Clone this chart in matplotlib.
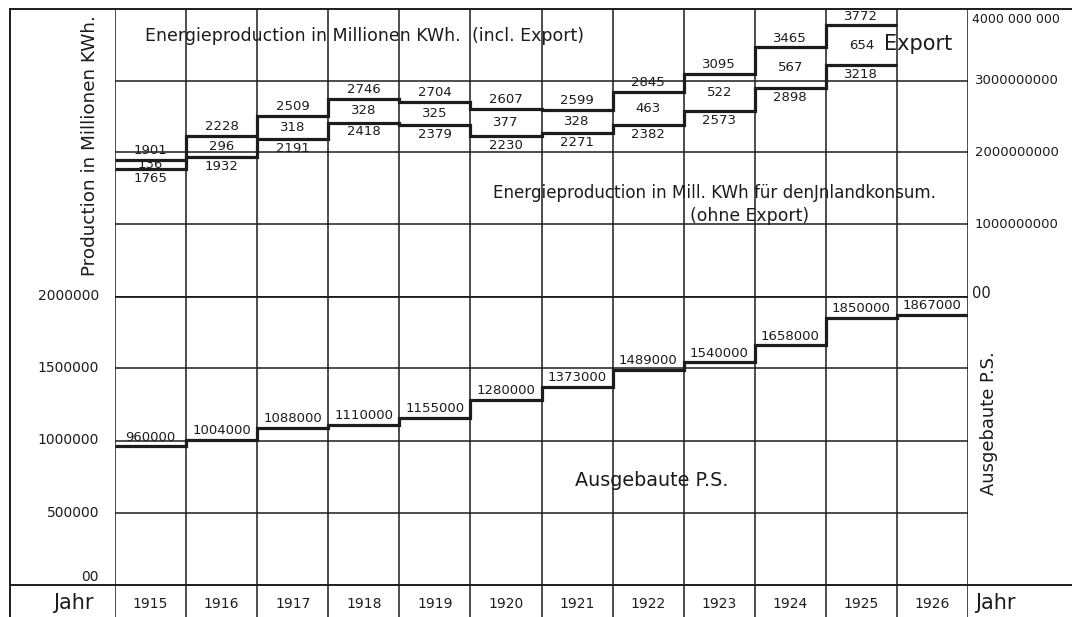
import matplotlib
matplotlib.use("Agg")
import matplotlib.pyplot as plt
import numpy as np
from matplotlib.lines import Line2D

# ---------------- data ----------------
years = [1915, 1916, 1917, 1918, 1919, 1920, 1921, 1922, 1923, 1924, 1925, 1926]
# Energy production in million kWh (1915-1925)
total_incl_export = [1901, 2228, 2509, 2746, 2704, 2607, 2599, 2845, 3095, 3465, 3772]
export_labels = [136, 296, 318, 328, 325, 377, 328, 463, 522, 567, 654]
inland = [1765, 1932, 2191, 2418, 2379, 2230, 2271, 2382, 2573, 2898, 3218]
# installed horsepower (1915-1926)
ps = [960000, 1004000, 1088000, 1110000, 1155000, 1280000, 1373000,
      1489000, 1540000, 1658000, 1850000, 1867000]

top_ticks = [1000, 2000, 3000, 4000]
top_tick_labels = ["1000000000", "2000000000", "3000000000", "4000 000 000"]
bot_ticks = [0, 500000, 1000000, 1500000, 2000000]
bot_tick_labels = ["00", "500000", "1000000", "1500000", "2000000"]

FONT = "DejaVu Sans"

W, H = 1072, 617
fig = plt.figure(figsize=(W / 100, H / 100), dpi=100)
fig.patch.set_facecolor("white")

def fx(p):
    return p / W

def fy(p):
    return 1 - p / H

INK = "#1c1c1c"
GRID_LW = 1.1
DATA_LW = 2.3
NUM_FS = 9.5

x0, x1 = 115, 968
ax_top = fig.add_axes([fx(x0), fy(296), fx(x1) - fx(x0), fy(9) - fy(296)])
ax_bot = fig.add_axes([fx(x0), fy(585), fx(x1) - fx(x0), fy(296) - fy(585)])
ax_yr = fig.add_axes([fx(x0), 0, fx(x1) - fx(x0), fy(585)])

n = len(years)
for ax in (ax_top, ax_bot, ax_yr):
    ax.set_xlim(0, n)
    for s in ax.spines.values():
        s.set_visible(False)
    ax.set_xticks([])
    ax.set_yticks([])
    ax.patch.set_alpha(0)
    for i in range(n + 1):
        ax.axvline(i, color=INK, lw=GRID_LW, zorder=1)

ax_top.set_ylim(0, 4000)
ax_bot.set_ylim(0, 2000000)
ax_yr.set_ylim(0, 1)

for v in top_ticks[:-1]:
    ax_top.axhline(v, color=INK, lw=GRID_LW, zorder=1)
for v in bot_ticks[1:-1]:
    ax_bot.axhline(v, color=INK, lw=GRID_LW, zorder=1)
ax_bot.axhline(2000000, color=INK, lw=2.0, zorder=1)

# outer frame lines (figure coords)
def fline(xa, ya, xb, yb, lw=1.4):
    fig.add_artist(Line2D([fx(xa), fx(xb)], [fy(ya), fy(yb)], color=INK, lw=lw))

fline(10, 9, 1072, 9, 1.4)
fline(10, 9, 10, 617, 1.4)
fline(10, 585, 1072, 585, 1.4)

# ---------------- upper panel: energy ----------------
m = len(total_incl_export)
edges = np.arange(m + 1)
ax_top.stairs(total_incl_export, edges, baseline=None, color=INK, lw=DATA_LW, zorder=3)
ax_top.stairs(inland, edges, baseline=None, color=INK, lw=DATA_LW, zorder=3)

for i in range(m):
    xc = i + 0.5
    ax_top.annotate(str(total_incl_export[i]), (xc, total_incl_export[i]), xytext=(0, 2),
                    textcoords="offset points", ha="center", va="bottom",
                    fontsize=NUM_FS, family=FONT, color=INK, zorder=4)
    ax_top.annotate(str(inland[i]), (xc, inland[i]), xytext=(0, -2),
                    textcoords="offset points", ha="center", va="top",
                    fontsize=NUM_FS, family=FONT, color=INK, zorder=4)
    ax_top.text(xc, (total_incl_export[i] + inland[i]) / 2, str(export_labels[i]),
                ha="center", va="center", fontsize=NUM_FS, family=FONT, color=INK, zorder=4)

# right scale labels (upper)
tr = ax_top.get_yaxis_transform()
for v, lab in zip(top_ticks, top_tick_labels):
    if v == 4000:
        ax_top.annotate(lab, (1, v), xycoords=tr, xytext=(4, -4), textcoords="offset pixels",
                        ha="left", va="top", fontsize=9, family=FONT, color=INK)
    else:
        ax_top.annotate(lab, (1, v), xycoords=tr, xytext=(7, 0), textcoords="offset pixels",
                        ha="left", va="center", fontsize=9.5, family=FONT, color=INK)
ax_top.annotate("00", (1, 0), xycoords=tr, xytext=(4, 3), textcoords="offset pixels",
                ha="left", va="center", fontsize=10.5, family=FONT, color=INK)

# ---------------- lower panel: P.S. ----------------
ax_bot.stairs(ps, np.arange(n + 1), baseline=None, color=INK, lw=DATA_LW, zorder=3)
for i in range(n):
    ax_bot.annotate(f"{ps[i]}", (i + 0.5, ps[i]), xytext=(0, 2),
                    textcoords="offset points", ha="center", va="bottom",
                    fontsize=NUM_FS, family=FONT, color=INK, zorder=4)

trb = ax_bot.get_yaxis_transform()
for v, lab in zip(bot_ticks, bot_tick_labels):
    dy = 8 if v == 0 else 0
    ax_bot.annotate(lab, (0, v), xycoords=trb, xytext=(-16, dy), textcoords="offset pixels",
                    ha="right", va="center", fontsize=10, family=FONT, color=INK)

# ---------------- year row ----------------
for i, yv in enumerate(years):
    ax_yr.text(i + 0.5, 0.42, str(yv), ha="center", va="center",
               fontsize=10, family=FONT, color=INK)

# ---------------- texts ----------------
def ptext(x, y, s, size, **kw):
    fig.text(fx(x), fy(y), s, fontsize=size, family=FONT, color=INK, **kw)

ptext(145, 36, "Energieproduction in Millionen KWh.", 12.5, ha="left", va="center")
ptext(472, 36, "(incl. Export)", 12.5, ha="left", va="center")
ptext(884, 44, "Export", 15, ha="left", va="center")
ptext(493, 193, "Energieproduction in Mill. KWh für denJnlandkonsum.", 12.1, ha="left", va="center")
ptext(690, 216, "(ohne Export)", 12.4, ha="left", va="center")
ptext(575, 481, "Ausgebaute P.S.", 13.8, ha="left", va="center")
ptext(90, 146, "Production in Millionen KWh.", 13.2, ha="center", va="center", rotation=90)
ptext(989, 423, "Ausgebaute P.S.", 12.9, ha="center", va="center", rotation=90)
ptext(73, 603, "Jahr", 15, ha="center", va="center")
ptext(975, 603, "Jahr", 15, ha="left", va="center")

fig.savefig("out.png", dpi=100, facecolor="white")
